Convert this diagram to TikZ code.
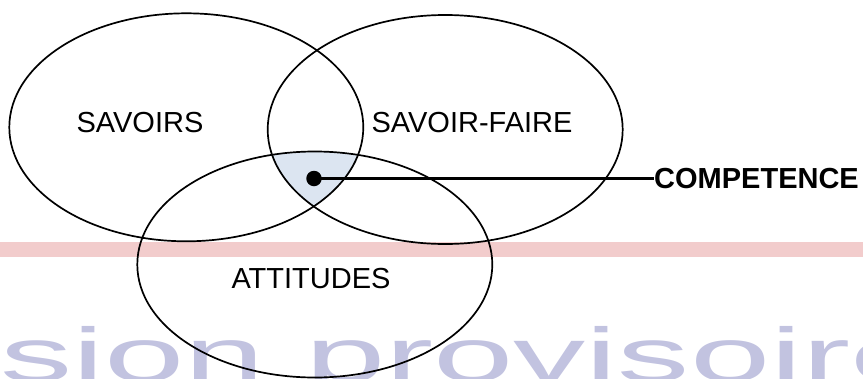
\documentclass[tikz,border=0pt]{standalone}
\usepackage{fontspec}
\setmainfont{Liberation Sans}
\definecolor{bandpink}{HTML}{F2CCCC}
\definecolor{wmark}{HTML}{C2C3E0}
\definecolor{zone}{HTML}{DCE5F1}
\tikzset{
  setring/.style={draw=black, line width=1.7pt},
  lbl/.style={inner sep=0pt, font=\fontsize{29}{34}\selectfont},
  lblbold/.style={inner sep=0pt, font=\fontsize{29}{34}\selectfont\bfseries},
}
\begin{document}
\begin{tikzpicture}[x=1pt,y=-1pt]
\useasboundingbox (0,0) rectangle (863,378);
\begin{scope}
\clip (0,0) rectangle (863,378);
\fill[bandpink] (0,242) rectangle (863,257);
\node[anchor=base west, inner sep=0pt, text=wmark, font=\fontsize{76}{76}\selectfont] (wm) at (0,381) {\scalebox{1.9}[1]{sion provisoire}};
\end{scope}
% shaded intersection
\begin{scope}
\clip (186.3,127.3) ellipse [x radius=177, y radius=114];
\clip (445.2,129.5) ellipse [x radius=177.5, y radius=114.5];
\fill[zone] (314.8,264.5) ellipse [x radius=177.5, y radius=113];
\end{scope}
\draw[setring] (186.3,127.3) ellipse [x radius=177, y radius=114];
\draw[setring] (445.2,129.5) ellipse [x radius=177.5, y radius=114.5];
\draw[setring] (314.8,264.5) ellipse [x radius=177.5, y radius=113];
\node[lbl] (sav) at (140,123) {SAVOIRS};
\node[lbl] (savf) at (472,123) {SAVOIR-FAIRE};
\node[lbl] (att) at (311,278.5) {ATTITUDES};
\node[lblbold, anchor=west] (comp) at (654,178.5) {COMPETENCE};
\node[circle, fill=black, inner sep=0pt, minimum size=15.5pt] (dot) at (314,178.5) {};
\draw[line width=2.2pt] (dot.center) -- (comp.west);
\end{tikzpicture}
\end{document}
